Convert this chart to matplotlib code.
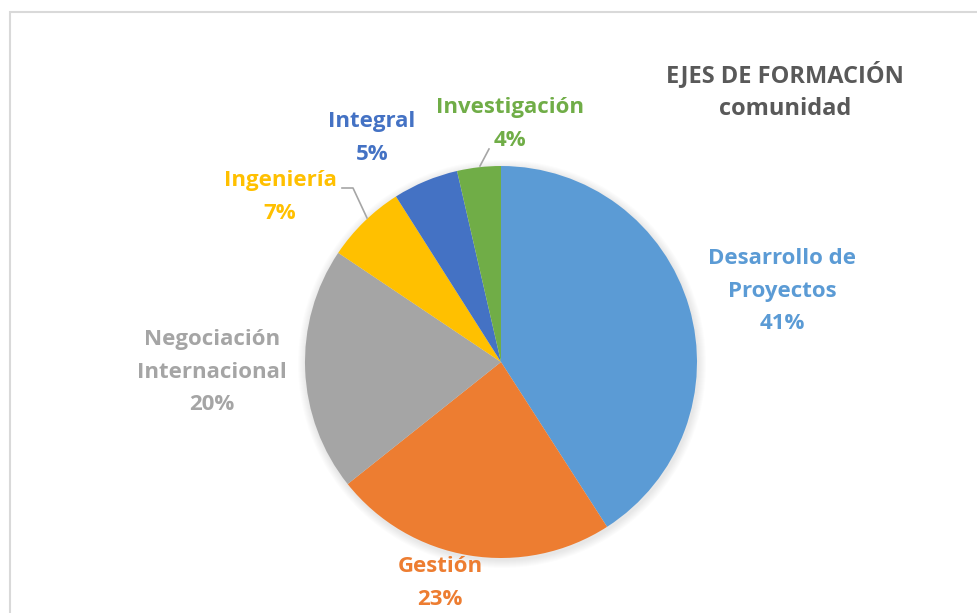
import matplotlib.pyplot as plt
from matplotlib.patches import Rectangle, Circle

# datos del grafico
categorias = ['Desarrollo de\nProyectos', 'Gestión', 'Negociación\nInternacional',
              'Ingeniería', 'Integral', 'Investigación']
porcentajes = [40.9, 23.4, 20.1, 6.6, 5.4, 3.6]
colores = ['#5B9BD5', '#ED7D31', '#A5A5A5', '#FFC000', '#4472C4', '#70AD47']
titulo = 'EJES DE FORMACIÓN\ncomunidad'

# posiciones de las etiquetas (pixeles, origen arriba a la izquierda)
pos_etiquetas = [(782, 291), (440, 583), (212, 372), (280, 197), (372, 138), (510, 124)]

W, H = 977, 613
fig = plt.figure(figsize=(W / 100, H / 100), dpi=100)
ax = fig.add_axes([0, 0, 1, 1])

plt.rcParams['font.family'] = ['Open Sans', 'DejaVu Sans']

cx, cy, r = 501, H - 362, 196

# sombra suave
for k in range(8):
    ax.add_patch(Circle((cx + 1, cy - 2), r + 8 - k, color='black',
                        alpha=0.012, linewidth=0, zorder=1))

ax.pie(porcentajes, colors=colores, startangle=90, counterclock=False,
       center=(cx, cy), radius=r, wedgeprops={'linewidth': 0, 'zorder': 2},
       frame=True)
ax.set_xlim(0, W)
ax.set_ylim(0, H)
ax.set_aspect('equal')
ax.axis('off')

# marco del area del grafico
ax.add_patch(Rectangle((10, -10), W + 20, H - 12 + 10, fill=False,
                       edgecolor='#d9d9d9', linewidth=1.5))

for cat, p, c, (x, y) in zip(categorias, porcentajes, colores, pos_etiquetas):
    ax.text(x, H - y, f'{cat}\n{p:.0f}%', color=c, fontsize=16, fontweight='bold',
            ha='center', va='center', linespacing=1.72, zorder=5)

# lineas guia
ax.plot([342, 353, 367], [H - 188, H - 188, H - 218], color='#a6a6a6', lw=1.2, zorder=3)
ax.plot([489, 480], [H - 149, H - 166], color='#a6a6a6', lw=1.2, zorder=3)

ax.text(785, H - 91, titulo, color='#595959', fontsize=17, fontweight='bold',
        ha='center', va='center', linespacing=1.55)

fig.savefig('out.png', dpi=100)
